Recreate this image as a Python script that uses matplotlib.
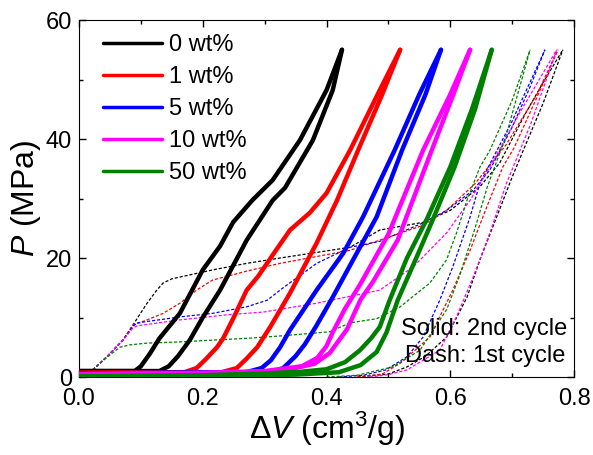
import matplotlib
matplotlib.use("Agg")
import matplotlib.pyplot as plt
from matplotlib.ticker import MultipleLocator

plt.rcParams['font.family'] = ['Liberation Sans', 'DejaVu Sans']
plt.rcParams['mathtext.fontset'] = 'custom'
plt.rcParams['mathtext.rm'] = 'Liberation Sans'
plt.rcParams['mathtext.it'] = 'Liberation Sans:italic'

labels = ["0 wt%", "1 wt%", "5 wt%", "10 wt%", "50 wt%"]
colors = ["black", "#ff0000", "#0000ff", "#ff00ff", "#008000"]

# 2nd cycle (solid), (dV, P) pairs: loading branch and unloading branch
wt0_2nd_load = [(0, 1.0), (0.09, 1.0), (0.1, 1.8), (0.115, 4), (0.13, 6.5), (0.163, 10.7), (0.2, 18),
                (0.228, 22), (0.249, 26), (0.28, 29.7), (0.313, 33.1), (0.357, 39.8), (0.40, 48.2), (0.425, 55)]
wt0_2nd_unload = [(0, 1.0), (0.13, 1.0), (0.145, 1.8), (0.16, 3.5), (0.179, 6.2), (0.2, 10), (0.228, 14.6),
                  (0.271, 23), (0.313, 29.7), (0.333, 31.8), (0.378, 39.8), (0.41, 48.2), (0.425, 55)]
wt1_2nd_load = [(0, 0.7), (0.17, 0.8), (0.19, 1.5), (0.205, 3), (0.223, 5), (0.233, 6.5), (0.25, 10),
                (0.271, 14.6), (0.29, 17), (0.313, 20.5), (0.341, 24.7), (0.373, 27.6), (0.40, 30.9),
                (0.438, 38.1), (0.486, 48.2), (0.519, 55)]
wt1_2nd_unload = [(0, 0.7), (0.23, 0.8), (0.255, 1.5), (0.27, 3), (0.288, 5), (0.309, 8.4), (0.341, 14.1),
                  (0.384, 22.5), (0.417, 29.7), (0.451, 38.1), (0.49, 47.5), (0.519, 55)]
wt5_2nd_load = [(0, 0.6), (0.27, 0.8), (0.295, 1.5), (0.31, 2.8), (0.325, 5), (0.341, 7.9), (0.384, 14.6),
                (0.427, 20.8), (0.459, 26.9), (0.51, 38.1), (0.55, 47.5), (0.585, 55)]
wt5_2nd_unload = [(0, 0.6), (0.31, 0.8), (0.33, 1.5), (0.35, 3.5), (0.365, 5.5), (0.383, 8.5), (0.41, 13.4),
                  (0.443, 19.7), (0.481, 26.9), (0.522, 38.1), (0.56, 47.5), (0.585, 55)]
wt10_2nd_load = [(0, 0.5), (0.2, 0.7), (0.3, 1.0), (0.36, 1.8), (0.385, 3.2), (0.40, 5.2), (0.41, 7.5),
                 (0.43, 11.5), (0.454, 15.5), (0.50, 24), (0.556, 38.1), (0.60, 47.5), (0.632, 55)]
wt10_2nd_unload = [(0, 0.5), (0.25, 0.7), (0.33, 1.1), (0.38, 2.2), (0.405, 4), (0.433, 8), (0.455, 13),
                   (0.475, 16), (0.515, 23), (0.57, 38.1), (0.605, 47.5), (0.632, 55)]
wt50_2nd_load = [(0, 0.1), (0.2, 0.3), (0.3, 0.6), (0.36, 0.9), (0.40, 1.3), (0.43, 2.5), (0.454, 4.5),
                 (0.472, 6.5), (0.486, 8.4), (0.502, 12.9), (0.53, 20), (0.562, 26.5), (0.6, 35.3),
                 (0.635, 45), (0.667, 55)]
wt50_2nd_unload = [(0, 0.1), (0.25, 0.2), (0.35, 0.4), (0.42, 0.8), (0.455, 2), (0.481, 4.2), (0.497, 7.5),
                   (0.515, 12.9), (0.545, 20), (0.572, 26.5), (0.607, 35.3), (0.64, 45), (0.667, 55)]

# 1st cycle (dashed): compression and decompression
wt0_1st_comp = [(0, 0.3), (0.018, 0.8), (0.045, 3.4), (0.071, 6.2), (0.087, 8.7), (0.10, 10.8), (0.11, 12.4),
                (0.125, 14.5), (0.136, 15.8), (0.15, 16.5), (0.163, 16.8), (0.216, 18), (0.271, 19.1),
                (0.325, 20), (0.438, 21.8), (0.486, 24.7), (0.556, 26), (0.6, 28), (0.648, 32),
                (0.68, 36), (0.72, 44), (0.75, 49.5), (0.782, 55)]
wt0_1st_decomp = [(0.45, 0), (0.5, 0.5), (0.53, 1.7), (0.56, 3.5), (0.594, 6.7), (0.627, 13.4),
                  (0.648, 19.7), (0.675, 26.9), (0.70, 33.6), (0.718, 38.1), (0.75, 46), (0.782, 55)]
wt1_1st_comp = [(0, 0.3), (0.018, 0.8), (0.045, 3.4), (0.071, 6.2), (0.087, 8.7), (0.11, 9.6), (0.136, 10.7),
                (0.163, 12.4), (0.19, 14.6), (0.216, 16.3), (0.271, 17.8), (0.325, 19.1), (0.438, 21.3),
                (0.486, 23), (0.556, 25.5), (0.594, 28), (0.64, 32.5), (0.69, 39), (0.74, 47.5), (0.774, 55)]
wt1_1st_decomp = [(0.45, 0), (0.49, 0.5), (0.519, 2.3), (0.567, 6.7), (0.604, 14.6), (0.632, 21.3),
                  (0.659, 28.6), (0.685, 35.3), (0.703, 38.5), (0.74, 47), (0.774, 55)]
wt5_1st_comp = [(0, 0.3), (0.018, 0.8), (0.045, 3.4), (0.071, 6.2), (0.087, 8.5), (0.094, 9.1), (0.163, 10.1),
                (0.216, 10.7), (0.271, 11.8), (0.304, 12.9), (0.33, 15), (0.384, 19.1), (0.438, 21.8),
                (0.486, 22.8), (0.556, 25.9), (0.594, 28), (0.637, 31.4), (0.664, 34.8), (0.70, 42),
                (0.728, 48.5), (0.753, 55)]
wt5_1st_decomp = [(0.42, 0), (0.46, 0.3), (0.496, 1.2), (0.53, 3.4), (0.556, 6.7), (0.583, 12.9),
                  (0.604, 18.5), (0.632, 26.9), (0.648, 32.6), (0.70, 43), (0.753, 55)]
wt10_1st_comp = [(0, 0.3), (0.018, 0.8), (0.045, 3.4), (0.071, 6.2), (0.087, 8.2), (0.094, 8.6), (0.163, 9.6),
                 (0.244, 10.5), (0.297, 10.9), (0.384, 12.4), (0.486, 14.6), (0.54, 18.5), (0.594, 24.2),
                 (0.632, 29.7), (0.664, 35.3), (0.71, 44), (0.772, 55)]
wt10_1st_decomp = [(0.47, 0), (0.5, 0.4), (0.53, 1.2), (0.583, 4.5), (0.61, 10.1), (0.637, 16.8),
                   (0.664, 24.2), (0.691, 32.6), (0.73, 42.5), (0.772, 55)]
wt50_1st_comp = [(0, 0.3), (0.018, 0.8), (0.045, 3.3), (0.066, 5), (0.082, 5.4), (0.11, 5.7), (0.163, 5.9),
                 (0.216, 6.2), (0.271, 6.5), (0.325, 6.9), (0.405, 7.6), (0.438, 9.1), (0.481, 9.8),
                 (0.519, 11.8), (0.567, 15.8), (0.594, 19.7), (0.61, 24.2), (0.627, 29.7), (0.648, 35.3),
                 (0.664, 38.1), (0.70, 46.5), (0.729, 55)]
wt50_1st_decomp = [(0.40, 0), (0.45, 0.3), (0.507, 1.7), (0.551, 4.5), (0.594, 11.3), (0.615, 17),
                   (0.64, 25), (0.66, 32), (0.69, 40.5), (0.729, 55)]

solid_sets = [(wt0_2nd_load, wt0_2nd_unload), (wt1_2nd_load, wt1_2nd_unload),
              (wt5_2nd_load, wt5_2nd_unload), (wt10_2nd_load, wt10_2nd_unload),
              (wt50_2nd_load, wt50_2nd_unload)]
dash_sets = [(wt0_1st_comp, wt0_1st_decomp), (wt1_1st_comp, wt1_1st_decomp),
             (wt5_1st_comp, wt5_1st_decomp), (wt10_1st_comp, wt10_1st_decomp),
             (wt50_1st_comp, wt50_1st_decomp)]

fig = plt.figure(figsize=(5.93, 4.55), dpi=100)
ax = fig.add_axes([0.1332, 0.1714, 0.8348, 0.7846])

# dashed 1st cycle underneath
for (comp, decomp), c in zip(dash_sets, colors):
    for branch in (comp, decomp):
        xs = [p[0] for p in branch]
        ys = [p[1] for p in branch]
        ax.plot(xs, ys, color=c, lw=0.9, ls=(0, (2.5, 1.5)), zorder=2)

# solid 2nd cycle on top
for (load, unload), c, lab in zip(solid_sets, colors, labels):
    ax.plot([p[0] for p in load], [p[1] for p in load], color=c, lw=3.2, label=lab, zorder=3,
            solid_capstyle='round', solid_joinstyle='round')
    ax.plot([p[0] for p in unload], [p[1] for p in unload], color=c, lw=3.2, zorder=3,
            solid_capstyle='round', solid_joinstyle='round')

ax.set_xlim(0, 0.8)
ax.set_ylim(0, 60)
ax.xaxis.set_major_locator(MultipleLocator(0.2))
ax.xaxis.set_minor_locator(MultipleLocator(0.1))
ax.yaxis.set_major_locator(MultipleLocator(20))
ax.yaxis.set_minor_locator(MultipleLocator(10))
ax.xaxis.set_major_formatter(plt.FuncFormatter(lambda v, pos: f"{v:.1f}"))
ax.tick_params(which='both', direction='in', top=True, right=True, labelsize=17, width=1)
ax.tick_params(which='major', length=5)
ax.tick_params(axis='x', which='major', pad=8)
ax.tick_params(axis='y', which='major', pad=5)
ax.tick_params(which='minor', length=3)

ax.set_xlabel(r'$\Delta\mathit{V}$ (cm$^3$/g)', fontsize=23, labelpad=0)
ax.set_ylabel(r'$\mathit{P}$ (MPa)', fontsize=23, labelpad=2)

leg = ax.legend(loc='upper left', frameon=False, fontsize=17, handlelength=2.5,
                handletextpad=0.3, labelspacing=0.42, borderaxespad=0.2,
                bbox_to_anchor=(0.02, 1.0))
for line in leg.get_lines():
    line.set_linewidth(2.5)

ax.text(0.986, 0.134, "Solid: 2nd cycle", transform=ax.transAxes, ha='right', va='center', fontsize=17)
ax.text(0.982, 0.059, "Dash: 1st cycle", transform=ax.transAxes, ha='right', va='center', fontsize=17)

fig.savefig("out.png", dpi=100)
